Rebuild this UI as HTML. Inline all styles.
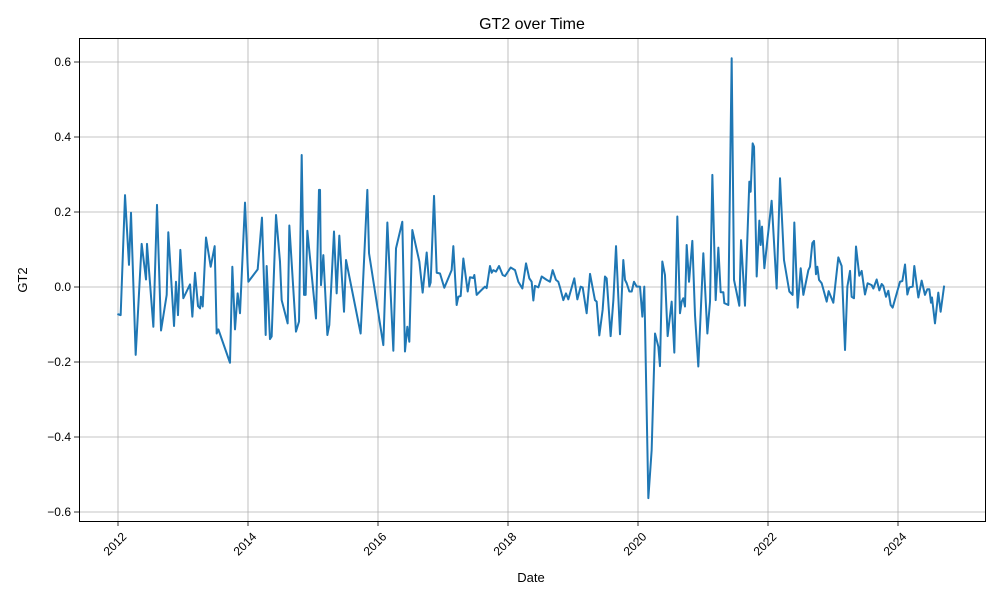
<!DOCTYPE html>
<html><head><meta charset="utf-8"><style>
body{margin:0;background:#fff;}
svg{display:block;font-family:"Liberation Sans","DejaVu Sans",sans-serif;}
</style></head><body>
<svg id="chart" width="1000" height="600" viewBox="0 0 1000 600">
<rect width="1000" height="600" fill="#fff"/>
<text x="532" y="29" font-size="16" text-anchor="middle">GT2 over Time</text>
<text x="531" y="582" font-size="13" text-anchor="middle">Date</text>
<text x="27" y="280" font-size="13" text-anchor="middle" transform="rotate(-90 27 280)">GT2</text>
<g id="grid"></g><g id="ticks"></g><g id="series"></g>
<rect x="79.5" y="38.5" width="906" height="483" fill="none" stroke="#000" stroke-width="1"/>
</svg>
<script>
const xTicks=[2012,2014,2016,2018,2020,2022,2024];
const yTicks=[-0.6,-0.4,-0.2,0.0,0.2,0.4,0.6];
const yTickLabels=["−0.6","−0.4","−0.2","0.0","0.2","0.4","0.6"];
const dates=[2012.005,2012.041,2012.108,2012.169,2012.2,2012.272,2012.364,2012.431,2012.446,2012.544,2012.6,2012.662,2012.749,2012.774,2012.862,2012.892,2012.923,2012.959,2013.005,2013.108,2013.144,2013.185,2013.231,2013.262,2013.277,2013.303,2013.354,2013.426,2013.487,2013.518,2013.544,2013.723,2013.759,2013.8,2013.841,2013.877,2013.954,2014.005,2014.149,2014.215,2014.272,2014.287,2014.338,2014.364,2014.431,2014.492,2014.518,2014.610,2014.636,2014.738,2014.785,
2014.826,2014.862,2014.887,2014.913,2015.046,2015.092,2015.108,2015.123,2015.159,2015.221,2015.251,2015.323,2015.364,2015.405,2015.477,2015.508,2015.733,2015.836,2015.862,2016.082,2016.144,2016.236,2016.277,2016.374,2016.415,2016.451,2016.482,2016.528,2016.636,2016.687,2016.749,2016.790,2016.810,2016.862,2016.903,2016.954,2017.020,2017.133,2017.159,2017.210,2017.236,2017.272,2017.313,2017.380,2017.415,2017.467,2017.482,2017.518,2017.569,2017.646,2017.672,2017.723,
2017.749,2017.774,2017.815,2017.862,2017.918,2017.954,2018.041,2018.108,2018.159,2018.221,2018.277,2018.328,2018.364,2018.390,2018.415,2018.467,2018.518,2018.595,2018.646,2018.687,2018.738,2018.774,2018.8,2018.851,2018.892,2018.928,2019.020,2019.067,2019.118,2019.149,2019.210,2019.262,2019.338,2019.364,2019.405,2019.456,2019.492,2019.518,2019.579,2019.621,2019.662,2019.723,2019.774,2019.8,2019.826,2019.867,2019.903,2019.938,2019.980,2020.031,2020.067,2020.097,2020.159,2020.210,2020.262,2020.313,2020.338,2020.374,2020.415,2020.456,2020.518,2020.559,2020.605,2020.646,
2020.672,2020.697,2020.723,2020.749,2020.785,2020.836,2020.877,2020.928,2021.005,2021.067,2021.108,2021.144,2021.195,2021.236,2021.272,2021.313,2021.328,2021.390,2021.441,2021.477,2021.559,2021.585,2021.646,2021.713,2021.733,2021.764,2021.785,2021.826,2021.867,2021.887,2021.908,2021.944,2022.056,2022.133,2022.185,2022.246,2022.328,2022.379,2022.405,2022.456,2022.503,2022.544,2022.621,2022.646,2022.682,2022.708,2022.738,2022.759,2022.785,2022.826,2022.903,2022.933,2023.005,2023.082,2023.133,2023.185,2023.221,2023.262,2023.287,2023.323,2023.354,2023.405,2023.441,2023.492,2023.533,2023.595,2023.621,2023.672,2023.713,2023.749,2023.774,2023.815,2023.851,2023.887,2023.918,2024.031,2024.067,2024.108,2024.144,2024.174,2024.226,2024.251,2024.313,2024.364,2024.415,2024.451,2024.482,2024.508,2024.523,2024.569,2024.620,2024.656,2024.708];
const gt2=[-0.073,-0.075,0.245,0.059,0.198,-0.181,0.115,0.02,0.115,-0.106,0.219,-0.116,-0.021,0.146,-0.104,0.014,-0.075,0.099,-0.030,0.007,-0.079,0.038,-0.051,-0.057,-0.026,-0.052,0.132,0.054,0.109,-0.124,-0.113,-0.202,0.054,-0.113,-0.017,-0.070,0.225,0.014,0.047,0.185,-0.128,0.056,-0.139,-0.132,0.192,0.068,-0.035,-0.097,0.164,-0.119,-0.092,
0.352,-0.021,-0.021,0.150,-0.084,0.259,0.259,0.005,0.085,-0.128,-0.101,0.148,-0.017,0.137,-0.066,0.072,-0.124,0.259,0.090,-0.155,0.172,-0.170,0.103,0.174,-0.172,-0.106,-0.146,0.152,0.068,-0.015,0.092,0.001,0.012,0.243,0.038,0.036,-0.002,0.045,0.109,-0.048,-0.026,-0.024,0.076,-0.012,0.026,0.024,0.032,-0.021,-0.012,0.001,-0.003,0.056,
0.038,0.045,0.041,0.056,0.032,0.029,0.052,0.045,0.014,-0.004,0.063,0.023,0.014,-0.036,0.003,-0.001,0.028,0.019,0.014,0.045,0.019,0.014,-0.001,-0.035,-0.017,-0.033,0.023,-0.033,0.001,-0.001,-0.070,0.035,-0.035,-0.039,-0.129,-0.061,0.028,0.023,-0.131,-0.035,0.109,-0.126,0.072,0.019,0.010,-0.012,-0.012,0.014,0.001,0.001,-0.079,0.001,-0.563,-0.435,-0.124,-0.159,-0.211,0.068,0.032,-0.131,-0.039,-0.175,0.188,-0.070,
-0.039,-0.030,-0.052,0.112,0.014,0.123,-0.075,-0.212,0.090,-0.124,-0.039,0.299,-0.035,0.105,-0.014,-0.014,-0.043,-0.048,0.610,0.019,-0.050,0.125,-0.050,0.281,0.254,0.383,0.374,0.028,0.177,0.112,0.161,0.050,0.230,-0.004,0.290,0.072,-0.012,-0.021,0.172,-0.055,0.050,-0.021,0.045,0.054,0.117,0.123,0.034,0.054,0.019,0.010,-0.039,-0.011,-0.042,0.079,0.056,-0.168,0.001,0.043,-0.026,-0.030,0.108,0.030,0.043,-0.020,0.010,0.005,-0.004,0.020,-0.009,0.008,0.003,-0.026,-0.010,-0.048,-0.055,0.014,0.016,0.060,-0.020,-0.001,0.001,0.056,-0.028,0.017,-0.021,-0.006,-0.006,-0.042,-0.028,-0.097,-0.015,-0.066,0.001];

const NS="http://www.w3.org/2000/svg";
const xScale=y=>118+(y-2012)*65;
const yScale=v=>287-v*375;
const grid=document.getElementById('grid'),ticks=document.getElementById('ticks'),series=document.getElementById('series');
function mk(tag,attrs,parent){const e=document.createElementNS(NS,tag);for(const k in attrs)e.setAttribute(k,attrs[k]);parent.appendChild(e);return e;}
xTicks.forEach(t=>{
  const x=xScale(t);
  const g=mk('line',{x1:x,x2:x,y1:38,y2:521,stroke:'#b0b0b0','stroke-width':0.8},grid);
  
  
  const tk=mk('line',{x1:x,x2:x,y1:521,y2:526,stroke:'#000','stroke-width':0.8},ticks);
  
  
  const lb=mk('text',{x:x-3,y:548,'font-size':12,'text-anchor':'middle',transform:`rotate(-45 ${x-3} 544)`},ticks);
  lb.textContent=t;
  
  
});
yTicks.forEach((t,i)=>{
  const y=yScale(t);
  const g=mk('line',{x1:79,x2:985,y1:y,y2:y,stroke:'#b0b0b0','stroke-width':0.8},grid);
  
  
  const tk=mk('line',{x1:74,x2:79,y1:y,y2:y,stroke:'#000','stroke-width':0.8},ticks);
  
  
  const lb=mk('text',{x:71,y:y+4,'font-size':12,'text-anchor':'end'},ticks);
  lb.textContent=yTickLabels[i];
  
  
});
const d=dates.map((t,i)=>(i?'L':'M')+xScale(t).toFixed(2)+','+yScale(gt2[i]).toFixed(2)).join('');
const p=mk('path',{d:d,fill:'none',stroke:'#1f77b4','stroke-width':2,'stroke-linejoin':'round','stroke-linecap':'square'},series);


</script>
</body></html>
